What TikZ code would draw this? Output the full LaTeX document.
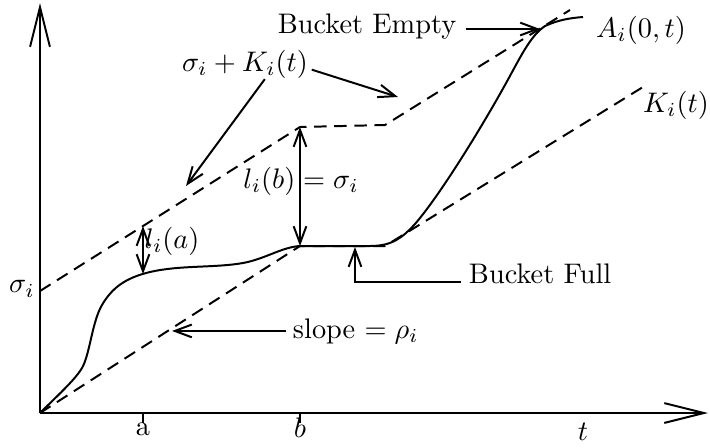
\documentclass[tikz,border=0pt]{standalone}
\usetikzlibrary{arrows.meta}
\begin{document}
\begin{tikzpicture}[x=0.3533pt,y=-0.3533pt,line width=0.7pt,
  ax/.style={-{Straight Barb[length=14pt,width=7pt]}},
  lab/.style={-{Straight Barb[length=6pt,width=4.5pt]}},
  dbl/.style={{Straight Barb[length=6pt,width=4.5pt]}-{Straight Barb[length=6pt,width=4.5pt]}},
  dsh/.style={dash pattern=on 4.4pt off 2.7pt},
  txt/.style={inner sep=0pt}]
\useasboundingbox (0,0) rectangle (710,447);
% axes
\coordinate (O) at (40,413);
\coordinate (ytop) at (40,3);
\coordinate (xend) at (708,413);
\draw[ax] (O) -- (ytop);
\draw[ax] (O) -- (xend);
% ticks
\coordinate (ta) at (143,413);
\coordinate (tb) at (300,413);
\draw (ta) -- ++(0,10);
\draw (tb) -- ++(0,10);
\node[txt,anchor=base] (la) at (143,435) {a};
\node[txt,anchor=base] (lbb) at (300,437) {$b$};
\node[txt,anchor=base] (lt) at (583,440) {$t$};
% dashed lines
\coordinate (s0) at (40,291);
\coordinate (k1) at (300,246);
\coordinate (k2) at (385,246);
\coordinate (k3) at (643,87);
\coordinate (u1) at (300,127);
\coordinate (u2) at (385,125);
\coordinate (u3) at (570,10);
\draw[dsh] (O) -- (k1) -- (k2) -- (k3);
\draw[dsh] (s0) -- (u1) -- (u2) -- (u3);
% arrival curve
\draw (O) .. controls (55,398) and (75,380) .. (82,368)
  .. controls (90,354) and (92,322) .. (102,305)
  .. controls (112,288) and (125,278) .. (150,272)
  .. controls (180,265) and (215,268) .. (243,263)
  .. controls (265,259) and (282,247) .. (300,246)
  -- (370,246)
  .. controls (392,246) and (402,238) .. (415,224)
  .. controls (440,195) and (480,130) .. (505,85)
  .. controls (520,58) and (530,36) .. (545,26)
  .. controls (558,20) and (570,18) .. (583,17);
% labels
\node[txt] (sig) at (22,289) {$\sigma_i$};
\node[txt] (A) at (641,30) {$A_i(0,t)$};
\node[txt] (K) at (676,105) {$K_i(t)$};
\node[txt,anchor=base] (be) at (367,33) {Bucket Empty};
\coordinate (bet) at (540,29);
\path ([xshift=3pt]be.east) coordinate (be1);
\draw[lab] (be1 |- bet) -- (bet);
\node[txt] (sk) at (245,64) {$\sigma_i + K_i(t)$};
\coordinate (skA) at (186,186);
\coordinate (skB) at (398,97);
\draw[lab] ([xshift=7pt]sk.south) -- (skA);
\draw[lab] ([yshift=-2pt,xshift=1pt]sk.east) -- (skB);
\node[txt] (lb) at (301,181) {$l_i(b) = \sigma_i$};
\draw[dbl] (u1) -- (k1);
\coordinate (ua) at (143,226);
\coordinate (ka) at (143,274);
\node[txt] (lia) at (172,241) {$l_i(a)$};
\draw[dbl] (ua) -- (ka);
\node[txt,anchor=base west] (bf) at (468,283) {Bucket Full};
\coordinate (bft) at (355,247);
\path ([xshift=-2.5pt,yshift=0.5pt]bf.base west) coordinate (bf1);
\draw[lab] (bf1) -- (bf1 -| bft) -- (bft);
\node[txt,anchor=base west] (sl) at (292,338) {slope $=\rho_i$};
\coordinate (slt) at (172,332);
\draw[lab] ([xshift=-2pt]sl.west) -- (sl.west -| slt);
\end{tikzpicture}
\end{document}
